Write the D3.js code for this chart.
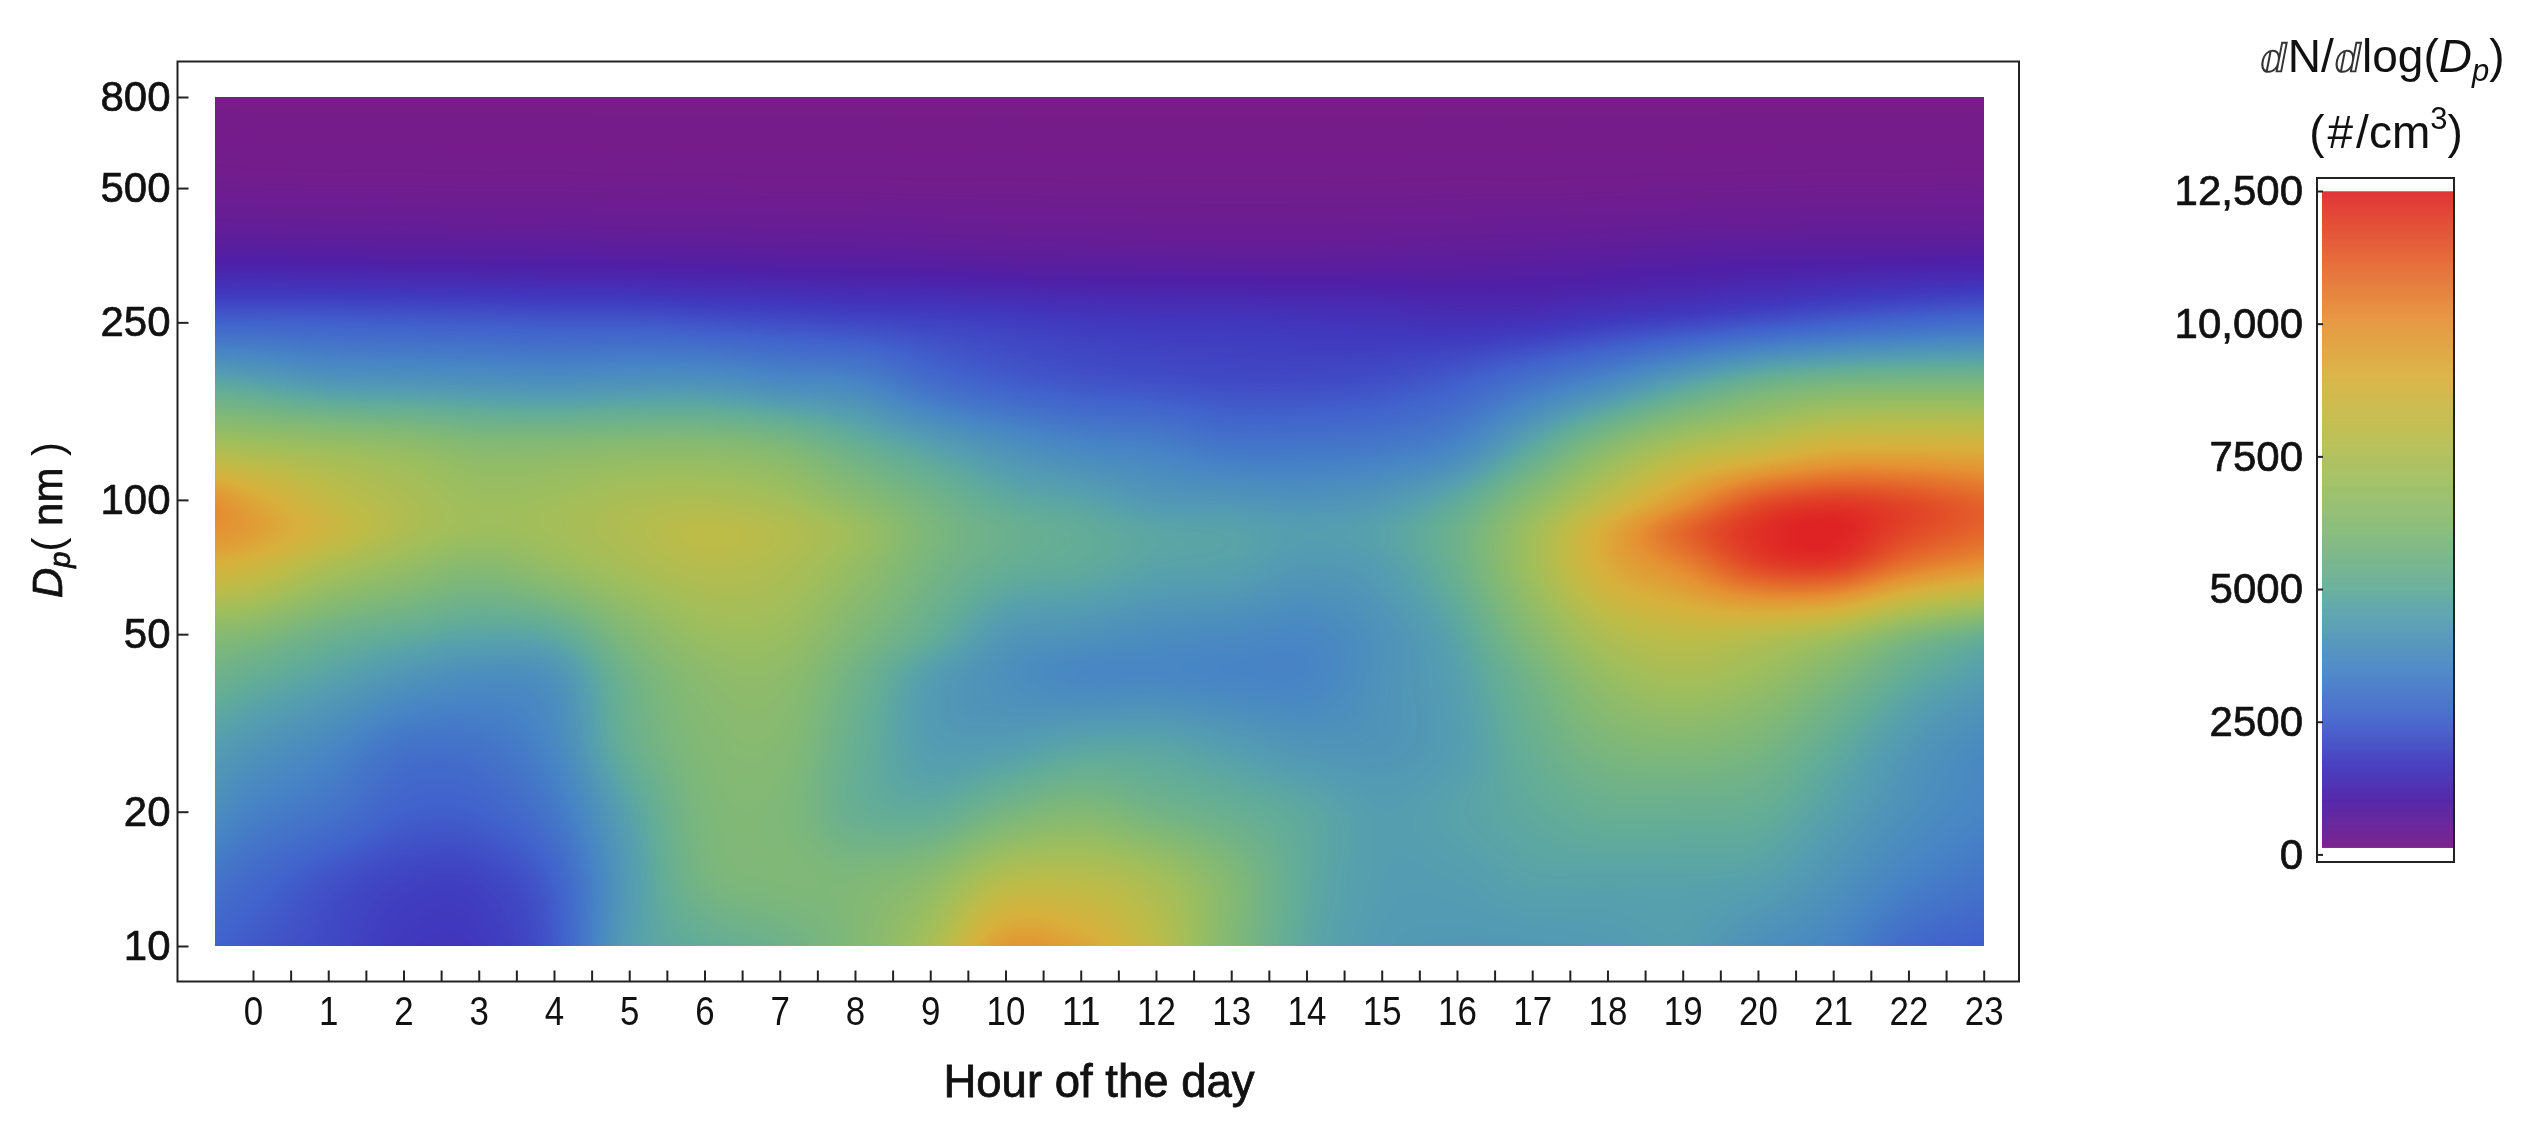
<!DOCTYPE html>
<html><head><meta charset="utf-8">
<script src="https://cdn.jsdelivr.net/npm/d3@7"></script>
<style>
html,body{margin:0;padding:0;background:#fff;width:2536px;height:1139px;overflow:hidden}
#wrap{position:relative;width:2536px;height:1139px}
canvas{position:absolute;left:0;top:0}
svg{position:absolute;left:0;top:0}
text{font-family:"Liberation Sans",Arial,sans-serif;fill:#111}
</style></head><body><div id="wrap"><canvas id="heat" width="2536" height="1139"></canvas><svg id="chart" width="2536" height="1139"></svg></div>
<script>
const hours=[-0.5,0,1,2,3,4,5,6,7,8,9,10,11,12,13,14,15,16,17,18,19,20,21,22,23];
const diameters=[10,14,20,28,40,50,70,85,100,130,180,250,350,500,800];
const dNdlogDp=[
[2500,2300,2000,1700,1700,2300,4400,5000,5400,6100,7400,9800,9400,8000,6100,4800,4300,4200,4200,4300,4400,3900,3500,2700,2400],
[3000,2700,2200,1900,1900,2500,4300,5700,6000,6000,6500,7800,7900,7300,6100,4900,4400,4400,4600,4600,4600,4500,4000,3400,3000],
[3800,3400,3000,2500,2500,3100,4600,5900,6000,5200,5000,5700,6100,5600,5200,4800,4400,4600,4900,5200,5200,5100,4500,3900,3500],
[4400,4100,3600,3000,3000,3600,5200,6100,6200,5200,4400,4400,4700,4700,4400,4100,4100,4400,5200,5900,6100,5800,5000,4200,3700],
[5400,5100,4600,4100,3800,4000,5500,6400,6500,5500,4400,3900,3600,3600,3500,3500,4000,4500,5600,6800,7300,6900,6000,5000,4400],
[6300,6100,5400,5000,4700,4900,6100,6900,6900,6000,5100,4200,4000,3800,3700,3600,4000,4700,6200,7600,8100,7900,7300,6100,5300],
[8800,8500,7400,6700,6200,6700,7300,7700,7500,6700,5700,5100,4900,4600,4500,4200,4400,5300,7100,9100,10200,11600,11800,10500,9700],
[10000,9600,8500,7500,7000,7200,7600,8000,7700,7000,5900,5300,5000,4700,4600,4400,4600,5400,7100,9200,11000,12200,12500,11700,11000],
[10000,9300,8200,7500,7000,7100,7400,7500,7200,6400,5600,4900,4600,4200,4100,4000,4200,4900,6400,8100,9800,11400,11900,11600,11000],
[7500,7300,7000,6700,6300,6300,6400,6400,6100,5300,4600,4000,3600,3400,3100,3100,3200,3600,4900,6400,7600,8300,9000,9100,9000],
[4900,4700,4300,4200,4100,4000,4100,4100,3800,3600,2900,2500,2300,2200,2100,2100,2200,2500,3100,3800,4700,5500,5900,6000,6000],
[2500,2500,2450,2400,2350,2300,2300,2200,2100,2000,1900,1800,1700,1650,1650,1600,1550,1500,1550,1750,1950,2200,2450,2650,2800],
[950,950,930,910,890,870,850,830,800,780,740,700,680,660,650,650,660,680,720,770,830,870,910,930,950],
[320,310,300,300,290,290,280,280,270,270,260,260,250,250,250,250,250,260,260,270,280,290,300,300,310],
[110,110,110,110,110,110,110,110,110,110,110,110,110,110,110,110,110,110,110,110,110,110,110,110,110]];
const xTicks=d3.range(0,23.5,0.5);
const yTicks=[10,20,50,100,250,500,800];
const cbTicks=[0,2500,5000,7500,10000,12500];
const cbLabels=["0","2500","5000","7500","10,000","12,500"];
const colorValues=[100,1000,1700,2500,3500,4500,5000,6000,7000,8000,9000,10000,11000,12000,12500];
const colorStops=["#781c88","#4f1fa6","#4038be","#4162cc","#4785c5","#56a0ae","#62ac98","#7fb878","#9dbe5e","#bdbc48","#d8b03b","#e59233","#e4682b","#e03a26","#df2224"];

const x=d3.scaleLinear().domain([0,23]).range([253,1983.7]);
const y=d3.scaleLog().domain([10,800]).range([946,97]);
const color=d3.scaleLinear().domain(colorValues).range(colorStops).clamp(true);
const cb=d3.scaleLinear().domain([0,12500]).range([854.4,191]);

// smooth (cubic Hermite) reading between the grid nodes
function slopes(k,v){const n=k.length,m=new Array(n);
  for(let i=0;i<n;i++){
    if(i===0)m[i]=(v[1]-v[0])/(k[1]-k[0]);
    else if(i===n-1)m[i]=(v[n-1]-v[n-2])/(k[n-1]-k[n-2]);
    else m[i]=(v[i+1]-v[i-1])/(k[i+1]-k[i-1]);
  }return m;}
function herm(k,v,m,t){
  let i=d3.bisectRight(k,t)-1; i=Math.max(0,Math.min(k.length-2,i));
  const h=k[i+1]-k[i],s=(t-k[i])/h,s2=s*s,s3=s2*s;
  return (2*s3-3*s2+1)*v[i]+(s3-2*s2+s)*h*m[i]+(-2*s3+3*s2)*v[i+1]+(s3-s2)*h*m[i+1];
}
// heat image
const ctx=document.getElementById("heat").getContext("2d");
const lut=d3.range(1301).map(i=>d3.rgb(color(i*10)));
const px0=Math.round(x(-0.5)),px1=Math.round(x(23)),py0=Math.round(y(800)),py1=Math.round(y(10));
const img=ctx.createImageData(px1-px0,py1-py0);
const logD=diameters.map(Math.log10);
const rowM=dNdlogDp.map(r=>slopes(hours,r));
for(let px=px0;px<px1;px++){
  const h=Math.min(23,x.invert(px+0.5));
  const col=dNdlogDp.map((r,i)=>herm(hours,r,rowM[i],h));
  const colM=slopes(logD,col);
  for(let py=py0;py<py1;py++){
    const t=Math.max(1,Math.min(Math.log10(800),Math.log10(y.invert(py+0.5))));
    const v=herm(logD,col,colM,t);
    const c=lut[Math.max(0,Math.min(1300,Math.round(v/10)))];
    const o=((py-py0)*(px1-px0)+(px-px0))*4;
    img.data[o]=c.r;img.data[o+1]=c.g;img.data[o+2]=c.b;img.data[o+3]=255;
  }
}
ctx.putImageData(img,px0,py0);

const svg=d3.select("#chart");
// frame
svg.append("rect").attr("x",177.5).attr("y",61.5).attr("width",1841.5).attr("height",920)
  .attr("fill","none").attr("stroke","#222").attr("stroke-width",2);
// x axis
const gx=svg.append("g").attr("transform","translate(0,981.5)")
  .call(d3.axisBottom(x).tickValues(xTicks).tickSize(-11).tickFormat(d=>Number.isInteger(d)?d:""));
gx.select(".domain").remove();
gx.selectAll("line").attr("stroke","#222").attr("stroke-width",2);
gx.selectAll("text").attr("y",43.5).attr("dy",0).attr("font-size",40).attr("font-family",'"Liberation Sans"').attr("fill","#222")
  .attr("text-anchor","middle").attr("textLength",d=>String(d).length*19.4).attr("lengthAdjust","spacingAndGlyphs");
// y axis
const gy=svg.append("g").attr("transform","translate(177.5,0)")
  .call(d3.axisLeft(y).tickValues(yTicks).tickSize(-11).tickFormat(d=>d));
gy.select(".domain").remove();
gy.selectAll("line").attr("stroke","#222").attr("stroke-width",2);
gy.selectAll("text").attr("x",-7).attr("dy","0.32em").attr("font-size",42).attr("font-family",'"Liberation Sans"')
  .attr("fill","#111").attr("stroke","#111").attr("stroke-width",0.7);
// axis titles
svg.append("text").attr("x",1099).attr("y",1097).attr("text-anchor","middle").attr("font-size",45.5)
  .attr("stroke","#111").attr("stroke-width",0.8).text("Hour of the day");
const yl=svg.append("text").attr("transform","translate(62,520) rotate(-90)").attr("text-anchor","middle").attr("font-size",42)
  .attr("stroke","#111").attr("stroke-width",0.7);
yl.append("tspan").attr("font-style","italic").text("D");
yl.append("tspan").attr("font-style","italic").attr("font-size",29).attr("dy",8).text("p");
yl.append("tspan").attr("dy",-8).attr("stroke-width",0).text("( ");
yl.append("tspan").text("nm");
yl.append("tspan").attr("stroke-width",0).text(" )");
// colour bar
const cbX0=2322,cbX1=2453,cbLo=126,cbHi=12490;
const cbSteps=d3.range(cbLo,cbHi,(cbHi-cbLo)/656);
svg.append("g").selectAll("rect").data(cbSteps).join("rect")
  .attr("x",cbX0).attr("width",cbX1-cbX0).attr("y",d=>cb(d)-1.2).attr("height",1.4).attr("fill",d=>color(d));
svg.append("rect").attr("x",2317).attr("y",178).attr("width",137).attr("height",684)
  .attr("fill","none").attr("stroke","#222").attr("stroke-width",2);
const gc=svg.append("g").attr("transform","translate(2317,0)")
  .call(d3.axisLeft(cb).tickValues(cbTicks).tickSize(-6).tickFormat((d,i)=>cbLabels[i]));
gc.select(".domain").remove();
gc.selectAll("line").attr("stroke","#222").attr("stroke-width",2);
gc.selectAll("text").attr("x",-14).attr("dy","0.33em").attr("font-size",42).attr("font-family",'"Liberation Sans"')
  .attr("fill","#111").attr("stroke","#111").attr("stroke-width",0.7);
// colour bar title
const t1=svg.append("text").attr("x",2382).attr("y",72).attr("text-anchor","middle").attr("font-size",46);
t1.append("tspan").attr("font-family",'"DejaVu Sans"').attr("font-size",40).attr("fill","#333").text("ⅆ");
t1.append("tspan").text("N/");
t1.append("tspan").attr("font-family",'"DejaVu Sans"').attr("font-size",40).attr("fill","#333").text("ⅆ");
t1.append("tspan").text("log(");
t1.append("tspan").attr("font-style","italic").text("D");
t1.append("tspan").attr("font-style","italic").attr("font-size",31).attr("dy",9).text("p");
t1.append("tspan").attr("dy",-9).text(")");
const t2=svg.append("text").attr("x",2386).attr("y",148).attr("text-anchor","middle").attr("font-size",46);
t2.append("tspan").text("(");
t2.append("tspan").attr("dx",3).text("#");
t2.append("tspan").attr("dx",3).text("/cm");
t2.append("tspan").attr("font-size",31).attr("dy",-19).text("3");
t2.append("tspan").attr("dy",19).text(")");
</script></body></html>
